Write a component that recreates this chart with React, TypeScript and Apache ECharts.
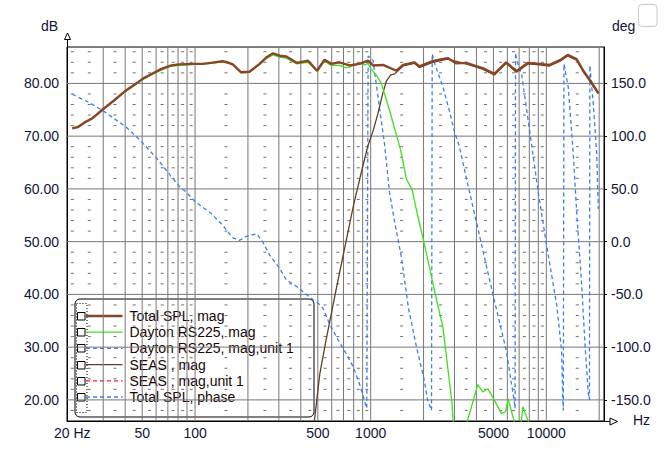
import React, { useEffect, useRef } from 'react';
import * as echarts from 'echarts';

// ---------- data ----------
const totalHz = [20, 21.5, 23.5, 26.1, 29.9, 34.7, 39.5, 47.3, 50.5, 60.2, 64.3, 73.2, 81, 99.2, 110.6, 123, 143, 153, 164, 183, 204, 233, 254, 278, 303, 331, 379, 440, 495, 546, 597, 665, 758, 863, 967, 1032, 1176, 1400, 1530, 1770, 1890, 2250, 2460, 2740, 3060, 3490, 4340, 5060, 5900, 6760, 7860, 9160, 10440, 11960, 13230, 14880, 16240, 17730, 19770];
const totalDb = [71.5, 71.7, 72.6, 73.4, 75.1, 76.8, 78.4, 80.2, 80.9, 82.25, 82.75, 83.4, 83.6, 83.7, 83.7, 83.9, 84.2, 84.0, 83.6, 82.1, 82.2, 83.7, 84.9, 85.7, 85.25, 85.1, 83.9, 84.3, 82.4, 84.5, 83.7, 84.0, 83.4, 83.7, 84.3, 83.4, 83.5, 82.4, 83.5, 84.0, 83.25, 84.2, 84.5, 84.8, 83.8, 83.9, 82.9, 81.8, 84.0, 82.3, 83.9, 83.7, 83.5, 84.4, 85.4, 84.6, 82.4, 80.6, 78.2];

const daytonHz = [20, 23.5, 29.9, 39.5, 50.5, 60.2, 73.2, 99.2, 123, 143, 164, 183, 204, 233, 254, 278, 303, 331, 379, 440, 495, 546, 597, 665, 720, 758, 810, 863, 930, 967, 1000, 1080, 1150, 1280, 1400, 1480, 1600, 1720, 1850, 2000, 2270, 2580, 2900, 2960, 3450, 4070, 4350, 4640, 4830, 5560, 5870, 6060, 6550, 6800, 7180, 7350, 7980, 8500];
const daytonDb = [71.4, 72.5, 75.0, 78.3, 80.8, 82.1, 83.3, 83.6, 83.8, 84.1, 83.6, 82.0, 82.1, 83.6, 84.7, 85.4, 85.0, 84.8, 83.7, 84.0, 82.3, 84.2, 83.4, 83.4, 83.0, 83.1, 83.6, 83.8, 83.5, 83.9, 82.8, 81.5, 80.0, 74.9, 70.3, 67.4, 61.8, 59.9, 55.0, 50.2, 41.8, 33.7, 19.5, 15.0, 14.5, 22.9, 21.5, 22.1, 21.2, 17.4, 17.75, 20.2, 16.0, 14.0, 15.5, 18.7, 15.5, 12.0];

const seasHz = [400, 470, 481, 513, 556, 638, 697, 797, 900, 967, 1032, 1100, 1172, 1230, 1300, 1370, 1420, 1530, 1770, 1890, 2250, 2740, 3490, 4340, 5060, 5900, 6760, 7860, 9160, 10440, 11960, 13230, 14880, 16240, 17730, 19770];
const seasDb = [10, 14, 16.8, 24.9, 31.2, 41.2, 47.4, 56.8, 64.2, 68.3, 71.0, 74.3, 78.1, 80.5, 81.6, 81.8, 82.3, 83.3, 83.8, 83.0, 84.0, 84.6, 83.7, 82.7, 81.6, 83.8, 82.1, 83.7, 83.5, 83.3, 84.2, 85.2, 84.4, 82.2, 80.4, 78.0];

const phaseHz = [20, 25.5, 30.6, 40.6, 49.4, 60.2, 71.6, 81, 89, 100, 123, 144, 164, 179, 196, 224, 243, 266, 303, 331, 379, 420, 470, 500, 534, 585, 665, 728, 797, 869, 925, 950, 967, 1032, 1075, 1120, 1200, 1280, 1370, 1500, 1640, 1825, 2020, 2110, 2220, 2240, 2300, 2580, 2830, 3000, 3200, 3500, 4040, 4970, 5920, 6550, 6640, 6680, 6780, 7230, 8070, 9000, 10040, 11450, 12220, 12390, 12500, 12600, 13330, 14230, 14890, 15900, 16600, 17340, 17600, 17700, 18500, 19350, 19770];
const phaseDeg = [139.7, 131, 123, 108.5, 95, 79.4, 63.75, 52.8, 47, 38, 27, 15.3, 3.6, 1.2, 5, 7.5, -0.3, -12.8, -25.3, -36.3, -42.5, -48.75, -55, -58, -62.8, -78.5, -95.6, -106.6, -119, -136.2, -151.9, -158, 176, 171.6, 150, 128, 92, 46.6, 18.4, -15.9, -62.8, -100.3, -131.5, -150.3, -160, 178, 170, 146.5, 121.6, 104, 90, 60.6, 15.3, -50.3, -103.4, -150.3, -158, 179, 172, 159, 102.8, 46.6, -3.5, -59.7, -103.4, -147, -160, 168.5, 146.5, 84, 27.8, -41, -97.2, -144.1, -150, 167, 131, 84, 31];

const xLabelHz = [20, 50, 100, 500, 1000, 5000, 10000];
const xGridHz = [30, 40, 50, 60, 70, 80, 90, 100, 200, 300, 400, 500, 600, 700, 800, 900, 1000, 2000, 3000, 4000, 5000, 6000, 7000, 8000, 9000, 10000, 20000];
const dbTicks = [20, 30, 40, 50, 60, 70, 80];
const degTicks = [-150, -100, -50, 0, 50, 100, 150];
const minorHz = [20, 25, 35, 45, 55, 65, 75, 85, 95, 150, 250, 350, 450, 550, 650, 750, 850, 950, 1500, 2500, 3500, 4500, 5500, 6500, 7500, 8500, 9500, 15000];
const minorDb = [18, 22, 24, 26, 28, 32, 34, 36, 38, 42, 44, 46, 48, 52, 54, 56, 58, 62, 64, 66, 68, 72, 74, 76, 78, 82, 84, 86];

const seriesNames = ['Total SPL, mag', 'Dayton RS225, mag', 'Dayton RS225, mag,unit 1', 'SEAS , mag', 'SEAS , mag,unit 1', 'Total SPL, phase'];

const HZ_MIN = 18.66;
const HZ_MAX = 21300;
const DB_MIN = 16.0;
const DB_MAX = 86.9;
const FONT = '"Liberation Sans", Arial, sans-serif';
const LABEL_COLOR = '#101538';
const GRID_COLOR = '#777777';

const zip = (xs: number[], ys: number[]) => xs.map((x, i) => [x, ys[i]]);

type Def = { name: string; hz: number[]; vals: number[]; axis: number; color: string; width: number; dash: number[] | 'solid'; z: number };
const defs: Def[] = [
  { name: seriesNames[0], hz: totalHz, vals: totalDb, axis: 0, color: '#8b4424', width: 2.4, dash: 'solid', z: 6 },
  { name: seriesNames[1], hz: daytonHz, vals: daytonDb, axis: 0, color: '#3fdf1f', width: 1.3, dash: 'solid', z: 5 },
  { name: seriesNames[2], hz: [], vals: [], axis: 1, color: '#3a7ef0', width: 1.3, dash: [4, 3], z: 3 },
  { name: seriesNames[3], hz: seasHz, vals: seasDb, axis: 0, color: '#5e3f22', width: 1.3, dash: 'solid', z: 4 },
  { name: seriesNames[4], hz: [], vals: [], axis: 1, color: '#ff2020', width: 1.3, dash: [4, 3], z: 3 },
  { name: seriesNames[5], hz: phaseHz, vals: phaseDeg, axis: 1, color: '#3a7ef0', width: 1.3, dash: [4, 3], z: 3 },
];

function buildLegend() {
  const children: any[] = [];
  children.push({ type: 'rect', shape: { x: 75, y: 299, width: 239, height: 118, r: 5 }, style: { fill: '#fff', stroke: '#000', lineWidth: 1 } });
  children.push({ type: 'rect', shape: { x: 76.5, y: 303.5, width: 10.5, height: 109 }, style: { fill: 'none', stroke: '#000', lineWidth: 1, lineDash: [1, 2] } });
  defs.forEach((d, i) => {
    const cy = 316 + i * 16.2;
    children.push({ type: 'rect', shape: { x: 77.5, y: Math.round(cy) - 3.5, width: 7.5, height: 7.5 }, style: { fill: '#fff', stroke: '#000', lineWidth: 1 } });
    children.push({ type: 'line', shape: { x1: 86, y1: cy, x2: 122.5, y2: cy }, style: { stroke: d.color, lineWidth: d.width, lineDash: d.dash === 'solid' ? null : d.dash } });
    children.push({ type: 'text', x: 129.5, y: cy, style: { text: d.name, fill: '#1a0505', font: `14px ${FONT}`, verticalAlign: 'middle', align: 'left' } });
  });
  return { type: 'group', z: 100, children };
}

export default function App() {
  const ref = useRef<HTMLDivElement>(null);
  useEffect(() => {
    if (!ref.current) return;
    const chart = echarts.init(ref.current, null, { renderer: 'svg' });
    const minorPoints: number[][] = [];
    minorHz.forEach((h) => minorDb.forEach((db) => minorPoints.push([h, db])));

    // grid lines as broken polylines ('-' breaks the line between segments)
    const vGridData: any[] = [];
    xGridHz.forEach((h) => { vGridData.push([h, DB_MIN], [h, DB_MAX], [h, '-']); });
    const hGridData: any[] = [];
    dbTicks.forEach((db) => { hGridData.push([HZ_MIN, db], [HZ_MAX, db], [HZ_MAX, '-']); });

    const gridLine = (name: string, data: any[]) => ({
      name, type: 'line', data, yAxisIndex: 0, showSymbol: false, symbol: 'none', connectNulls: false,
      silent: true, z: 1, clip: true, lineStyle: { color: GRID_COLOR, width: 1, type: 'solid' },
    });

    const option: any = {
      animation: false,
      backgroundColor: '#ffffff',
      grid: { left: 67, right: 68, top: 47, bottom: 48, show: true, borderColor: '#000', borderWidth: 1, backgroundColor: 'transparent', containLabel: false, outerBoundsMode: 'none' },
      xAxis: {
        type: 'log', logBase: 10, min: HZ_MIN, max: HZ_MAX,
        axisLine: { show: true, onZero: false, lineStyle: { color: '#000', width: 1 } },
        axisTick: { show: false },
        splitLine: { show: false },
        minorTick: { show: false },
        minorSplitLine: { show: false },
        axisLabel: {
          customValues: xLabelHz,
          formatter: (v: number) => (Math.round(v) === 20 ? '20 Hz' : String(Math.round(v))),
          color: LABEL_COLOR, fontSize: 14, fontFamily: FONT, margin: 5, hideOverlap: false,
        },
      },
      yAxis: [
        {
          type: 'value', min: DB_MIN, max: DB_MAX, position: 'left',
          axisLine: { show: true, onZero: false, lineStyle: { color: '#000' } },
          axisTick: { show: false },
          splitLine: { show: false },
          axisLabel: { customValues: dbTicks, formatter: (v: number) => v.toFixed(2), color: LABEL_COLOR, fontSize: 14, fontFamily: FONT, margin: 8 },
        },
        {
          type: 'value', min: -170, max: 184.5, position: 'right',
          axisLine: { show: true, onZero: false, lineStyle: { color: '#000' } },
          axisTick: { show: true, customValues: degTicks, length: 3, lineStyle: { color: '#000' } },
          splitLine: { show: false },
          axisLabel: { customValues: degTicks, formatter: (v: number) => v.toFixed(1), color: LABEL_COLOR, fontSize: 14, fontFamily: FONT, margin: 7 },
        },
      ],
      series: [
        gridLine('vgrid', vGridData),
        gridLine('hgrid', hGridData),
        {
          name: 'minor', type: 'scatter', data: minorPoints, symbol: 'rect', symbolSize: [3, 1],
          itemStyle: { color: '#4a4a4a' }, silent: true, z: 1, yAxisIndex: 0,
        },
        ...defs.map((d) => ({
          name: d.name, type: 'line', yAxisIndex: d.axis, data: zip(d.hz, d.vals),
          showSymbol: false, symbol: 'none', clip: true, z: d.z, silent: true,
          lineStyle: { color: d.color, width: d.width, type: d.dash },
          itemStyle: { color: d.color },
        })),
      ],
      graphic: [
        { type: 'line', shape: { x1: 67.5, y1: 47, x2: 67.5, y2: 39.5 }, style: { stroke: '#000', lineWidth: 1 }, z: 50 },
        { type: 'polygon', shape: { points: [[64.5, 39.5], [70.5, 39.5], [67.5, 33]] }, style: { fill: '#fff', stroke: '#000', lineWidth: 1 }, z: 50 },
        { type: 'line', shape: { x1: 604, y1: 421.5, x2: 610, y2: 421.5 }, style: { stroke: '#000', lineWidth: 1 }, z: 50 },
        { type: 'polygon', shape: { points: [[610, 418], [610, 425], [617.5, 421.5]] }, style: { fill: '#fff', stroke: '#000', lineWidth: 1 }, z: 50 },
        { type: 'text', x: 41, y: 26, style: { text: 'dB', fill: LABEL_COLOR, font: `14px ${FONT}`, verticalAlign: 'middle' }, z: 50 },
        { type: 'text', x: 612, y: 26, style: { text: 'deg', fill: LABEL_COLOR, font: `14px ${FONT}`, verticalAlign: 'middle' }, z: 50 },
        { type: 'text', x: 633, y: 420, style: { text: 'Hz', fill: LABEL_COLOR, font: `14px ${FONT}`, verticalAlign: 'middle' }, z: 50 },
        { type: 'rect', shape: { x: 638.5, y: 4.5, width: 18.5, height: 22, r: 3 }, style: { fill: 'none', stroke: '#c8c8c8', lineWidth: 1 }, z: 50 },
        buildLegend(),
      ],
    };
    chart.setOption(option);
    return () => chart.dispose();
  }, []);
  return <div ref={ref} style={{ position: 'absolute', left: 0, top: 0, width: 672, height: 469, background: '#fff' }} />;
}
